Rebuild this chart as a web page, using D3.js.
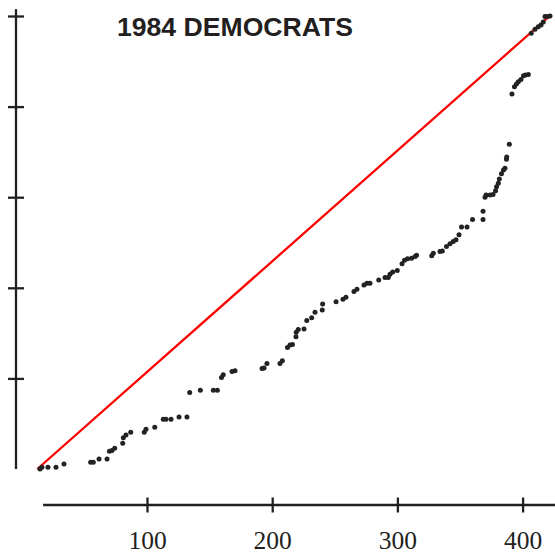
<!DOCTYPE html>
<html>
<head>
<meta charset="utf-8">
<script src="https://cdn.jsdelivr.net/npm/d3@7"></script>
<style>
  html, body { margin: 0; padding: 0; background: #fff; }
  svg { display: block; }
</style>
</head>
<body>
<svg id="chart" width="555" height="555"></svg>
<script>
const title = "1984 DEMOCRATS";
const xTickValues = [100, 200, 300, 400];
const yTickValues = [20, 40, 60, 80, 100];
const xAxisExtent = [17, 427];
const yAxisExtent = [0, 101.5];
const refLineX = [12.4, 421.6];
const refLineY = [0, 100];

const xValues = [14.5,16.1,20.9,27.3,33.7,55.0,57.1,61.7,68.1,70.0,72.0,74.2,80.6,81.1,83.2,87.0,97.8,99.2,106.2,113.0,115.2,119.2,125.6,131.9,134.1,142.6,153.0,156.2,159.5,160.9,167.9,170.3,191.9,193.5,195.8,206.2,208.1,212.2,214.2,216.2,219.0,219.2,220.8,225.4,227.6,231.5,234.2,240.0,240.3,251.0,256.5,258.9,265.3,267.7,273.3,275.7,278.1,285.1,290.1,292.7,294.1,296.2,299.9,303.7,305.7,308.1,311.3,314.1,315.3,327.4,328.7,334.0,335.9,339.2,342.0,344.6,346.8,349.2,351.2,355.6,360.0,368.4,368.4,370.0,370.8,374.0,376.4,378.4,379.2,380.6,381.4,383.1,384.7,385.9,387.1,387.3,389.4,391.5,393.5,395.1,396.6,398.7,400.7,402.3,404.6,406.9,409.9,412.5,414.7,416.5,417.9,419.9,421.9];
const yValues = [0.0,0.4,0.4,0.4,1.1,1.5,1.5,2.2,2.2,3.9,4.1,4.6,5.7,6.9,7.5,8.1,8.1,8.8,9.2,11.0,11.0,11.0,11.5,11.5,16.9,17.4,17.4,17.4,20.2,20.8,21.5,21.7,22.2,22.3,23.3,23.3,23.9,26.8,27.4,27.5,29.2,30.2,30.8,30.9,32.8,33.4,34.6,35.1,36.4,36.9,37.5,37.9,39.2,39.7,40.6,41.0,41.0,41.7,42.3,42.3,43.0,43.5,43.8,45.3,46.1,46.4,46.5,46.9,47.2,47.1,47.6,48.0,48.1,49.1,49.7,50.2,50.6,51.7,53.4,53.4,55.1,56.9,55.1,60.0,60.5,60.5,60.6,61.4,62.3,63.1,64.0,65.2,66.0,66.4,68.4,68.9,71.7,82.8,84.4,85.0,85.5,86.0,86.8,87.0,87.1,96.2,97.1,97.6,98.0,98.7,99.9,99.9,100.0];

const points = xValues.map((v, i) => ({x: v, y: yValues[i]}));

const svg = d3.select("#chart");
const x = d3.scaleLinear().domain([0, 400]).range([21.8, 522.6]);
const y = d3.scaleLinear().domain([0, 100]).range([469, 16]);

const axisColor = "#231f20";
const xAxisY = 505;
const yAxisX = 16;

// X axis (range frame)
const gx = svg.append("g").attr("transform", `translate(0,${xAxisY})`)
  .call(d3.axisBottom(x).tickValues(xTickValues).tickSize(0).tickPadding(0));
gx.select(".domain").remove();
gx.selectAll(".tick line").attr("y1", -7.5).attr("y2", 7.5)
  .attr("stroke", axisColor).attr("stroke-width", 2.3);
gx.selectAll(".tick text")
  .attr("y", 44).attr("dy", null)
  .attr("fill", "#231f20")
  .style("font-family", "'Liberation Serif', 'Times New Roman', serif")
  .style("font-size", "25.5px");
gx.insert("line", ":first-child")
  .attr("x1", x(xAxisExtent[0])).attr("x2", x(xAxisExtent[1]))
  .attr("y1", 0).attr("y2", 0)
  .attr("stroke", axisColor).attr("stroke-width", 2.3);

// Y axis (range frame, no labels)
const gy = svg.append("g").attr("transform", `translate(${yAxisX},0)`)
  .call(d3.axisLeft(y).tickValues(yTickValues).tickSize(0).tickFormat(""));
gy.select(".domain").remove();
gy.selectAll(".tick line").attr("x1", -8).attr("x2", 8)
  .attr("stroke", axisColor).attr("stroke-width", 2.3);
gy.insert("line", ":first-child")
  .attr("x1", 0).attr("x2", 0)
  .attr("y1", y(yAxisExtent[0])).attr("y2", y(yAxisExtent[1]))
  .attr("stroke", axisColor).attr("stroke-width", 2.3);

// Reference line (beneath points)
svg.append("line")
  .attr("x1", x(refLineX[0])).attr("y1", y(refLineY[0]))
  .attr("x2", x(refLineX[1])).attr("y2", y(refLineY[1]))
  .attr("stroke", "#f00").attr("stroke-width", 2.3);

// Points
svg.append("g").selectAll("circle").data(points).join("circle")
  .attr("cx", d => x(d.x)).attr("cy", d => y(d.y))
  .attr("r", 2.5).attr("fill", "#222");

// Title
svg.append("text")
  .attr("x", 117).attr("y", 36)
  .attr("fill", "#231f20")
  .style("font-family", "'Liberation Sans', Arial, sans-serif")
  .style("font-weight", "bold")
  .style("font-size", "26.6px")
  .text(title);
</script>
</body>
</html>
